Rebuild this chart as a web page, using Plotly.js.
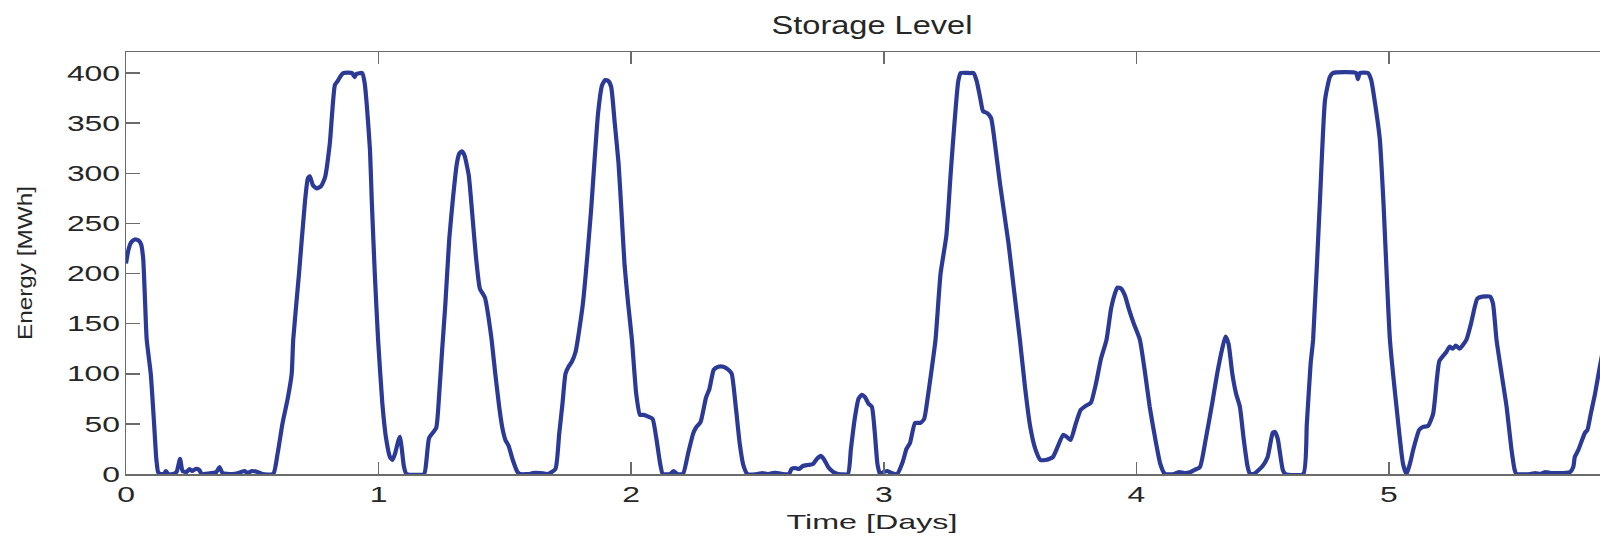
<!DOCTYPE html>
<html>
<head>
<meta charset="utf-8">
<script src="https://cdn.plot.ly/plotly-3.0.1.min.js"></script>
<style>
  html, body { margin: 0; padding: 0; background: #ffffff; overflow: hidden; }
  #chart { width: 1640px; height: 540px; }
</style>
</head>
<body>
<div id="chart"></div>
<script>
// Storage level over time (days) in MWh
const timeDays = [
  0.000, 0.010, 0.020, 0.035, 0.050, 0.060, 0.068, 0.075, 0.082, 0.098, 0.111, 0.120, 0.127, 0.135,
  0.150, 0.158, 0.166, 0.185, 0.200, 0.214, 0.224, 0.240, 0.252, 0.262, 0.275, 0.290, 0.300, 0.340,
  0.358, 0.370, 0.382, 0.420, 0.445, 0.470, 0.480, 0.500, 0.520, 0.540, 0.583, 0.600, 0.620, 0.640,
  0.656, 0.662, 0.685, 0.709, 0.720, 0.728, 0.740, 0.755, 0.772, 0.788, 0.807, 0.827, 0.838, 0.850,
  0.860, 0.895, 0.905, 0.912, 0.935, 0.945, 0.953, 0.966, 0.973, 0.985, 0.998, 1.015, 1.030, 1.045,
  1.055, 1.065, 1.078, 1.085, 1.092, 1.100, 1.110, 1.180, 1.190, 1.200, 1.228, 1.240, 1.252, 1.264,
  1.280, 1.296, 1.310, 1.320, 1.330, 1.340, 1.357, 1.370, 1.385, 1.401, 1.421, 1.446, 1.462, 1.478,
  1.490, 1.502, 1.515, 1.530, 1.550, 1.560, 1.600, 1.610, 1.640, 1.670, 1.700, 1.715, 1.728, 1.740,
  1.752, 1.765, 1.780, 1.808, 1.840, 1.869, 1.885, 1.897, 1.910, 1.921, 1.935, 1.950, 1.962, 1.974,
  1.988, 2.003, 2.020, 2.035, 2.050, 2.070, 2.085, 2.100, 2.115, 2.125, 2.155, 2.168, 2.182, 2.205,
  2.225, 2.245, 2.256, 2.275, 2.296, 2.310, 2.327, 2.345, 2.365, 2.385, 2.398, 2.415, 2.430, 2.445,
  2.460, 2.500, 2.520, 2.540, 2.560, 2.580, 2.600, 2.625, 2.635, 2.650, 2.665, 2.680, 2.700, 2.720,
  2.735, 2.751, 2.765, 2.780, 2.800, 2.820, 2.858, 2.870, 2.885, 2.900, 2.913, 2.925, 2.940, 2.953,
  2.965, 2.975, 2.985, 3.000, 3.015, 3.030, 3.053, 3.075, 3.090, 3.104, 3.124, 3.145, 3.160, 3.175,
  3.190, 3.205, 3.225, 3.248, 3.265, 3.280, 3.295, 3.305, 3.340, 3.355, 3.368, 3.382, 3.393, 3.410,
  3.425, 3.440, 3.460, 3.494, 3.515, 3.539, 3.560, 3.580, 3.600, 3.620, 3.640, 3.655, 3.670, 3.690,
  3.710, 3.725, 3.740, 3.760, 3.780, 3.800, 3.820, 3.840, 3.860, 3.882, 3.900, 3.915, 3.925, 3.940,
  3.955, 3.970, 3.990, 4.014, 4.035, 4.053, 4.075, 4.095, 4.113, 4.150, 4.170, 4.190, 4.215, 4.230,
  4.252, 4.275, 4.300, 4.320, 4.340, 4.353, 4.365, 4.380, 4.395, 4.410, 4.425, 4.440, 4.450, 4.465,
  4.480, 4.500, 4.520, 4.540, 4.549, 4.560, 4.567, 4.580, 4.590, 4.661, 4.675, 4.690, 4.700, 4.727,
  4.747, 4.766, 4.778, 4.870, 4.877, 4.885, 4.917, 4.930, 4.945, 4.964, 4.978, 5.004, 5.030, 5.056,
  5.070, 5.085, 5.096, 5.120, 5.135, 5.155, 5.175, 5.190, 5.200, 5.228, 5.240, 5.253, 5.265, 5.280,
  5.307, 5.325, 5.350, 5.370, 5.400, 5.412, 5.426, 5.446, 5.466, 5.485, 5.498, 5.505, 5.560, 5.580,
  5.600, 5.620, 5.640, 5.660, 5.690, 5.717, 5.730, 5.736, 5.750, 5.776, 5.786, 5.800, 5.816, 5.835,
  5.860, 5.880, 5.900
];

const energyMWh = [
  210, 224, 231, 234, 233, 229, 215, 175, 134, 100, 51, 15, 2, 0,
  0, 3, 0, 0, 2, 15, 3, 2, 5, 3, 5, 4, 0, 1,
  2, 7, 1, 0, 1, 3, 1, 3, 2, 0, 0, 20, 51, 75,
  100, 134, 200, 273, 295, 297, 288, 285, 287, 296, 330, 388, 392, 397,
  400, 400, 396, 399, 400, 390, 369, 323, 273, 200, 134, 70, 35, 17,
  14, 20, 33, 37, 25, 8, 0, 0, 15, 36, 46, 80, 125, 168,
  235, 279, 310, 320, 322, 318, 298, 262, 218, 185, 176, 137, 100, 66,
  46, 34, 28, 15, 2, 0, 0, 1, 1, 0, 5, 40, 70, 100,
  107, 112, 122, 168, 259, 360, 388, 393, 392, 386, 350, 310, 260, 208,
  170, 134, 80, 59, 59, 57, 55, 35, 10, 0, 0, 3, 0, 0,
  20, 40, 46, 52, 76, 85, 104, 107, 107, 104, 100, 65, 30, 8,
  0, 0, 1, 0, 1, 1, 0, 0, 5, 6, 5, 8, 9, 10,
  15, 18, 14, 7, 2, 0, 0, 25, 55, 75, 79, 77, 70, 67,
  40, 10, 0, 2, 3, 1, 0, 12, 25, 31, 51, 51, 55, 78,
  105, 134, 200, 238, 300, 350, 392, 400, 400, 400, 392, 375, 362, 360,
  355, 330, 290, 230, 185, 134, 85, 47, 25, 14, 14, 15, 17, 28,
  39, 37, 34, 50, 64, 68, 71, 90, 115, 134, 165, 180, 186, 185,
  178, 165, 150, 134, 100, 67, 35, 10, 0, 0, 2, 1, 2, 4,
  7, 35, 70, 100, 125, 137, 130, 100, 80, 67, 35, 8, 0, 0,
  3, 8, 17, 41, 42, 35, 24, 4, 0, 0, 50, 110, 134, 273,
  373, 396, 400, 400, 394, 400, 400, 393, 370, 334, 273, 134, 67, 10,
  0, 12, 24, 44, 47, 48, 60, 95, 113, 122, 127, 125, 128, 125,
  134, 150, 175, 177, 177, 170, 134, 100, 67, 25, 4, 0, 0, 1,
  0, 2, 1, 1, 1, 2, 7, 17, 24, 41, 44, 61, 80, 107,
  140, 165, 180
];

const yTickValues = [0, 50, 100, 150, 200, 250, 300, 350, 400];
const xTickValues = [0, 1, 2, 3, 4, 5];

const FONT = '"Liberation Sans", Arial, Helvetica, sans-serif';
const AXIS_GREY = '#6b6b6b';
const TEXT_DARK = '#262626';

const trace = {
  x: timeDays,
  y: energyMWh,
  type: 'scatter',
  mode: 'lines',
  line: { color: '#2b3a96', width: 4.2, shape: 'spline', smoothing: 0.5 },
  hoverinfo: 'x+y'
};

const layout = {
  width: 1640,
  height: 540,
  paper_bgcolor: '#ffffff',
  plot_bgcolor: '#ffffff',
  margin: { l: 126, r: 22, t: 52, b: 66, pad: 0 },
  showlegend: false,
  font: { family: FONT, color: TEXT_DARK },
  title: {
    text: 'Storage Level',
    font: { family: FONT, size: 26, color: TEXT_DARK },
    x: 0.5, xref: 'paper', xanchor: 'center',
    y: 1 - 25 / 540, yref: 'container', yanchor: 'middle'
  },
  xaxis: {
    range: [0, 5.907],
    tickvals: xTickValues,
    ticktext: xTickValues.map(String),
    ticks: 'inside',
    ticklen: 12,
    tickwidth: 1.5,
    tickcolor: AXIS_GREY,
    showline: true,
    linecolor: AXIS_GREY,
    linewidth: 1.5,
    mirror: 'ticks',
    showgrid: false,
    zeroline: false,
    tickfont: { family: FONT, size: 22, color: TEXT_DARK },
    ticklabelstandoff: 0,
    title: {
      text: 'Time [Days]',
      font: { family: FONT, size: 21, color: TEXT_DARK },
      standoff: 8
    }
  },
  yaxis: {
    range: [0, 421],
    tickvals: yTickValues,
    ticktext: yTickValues.map(String),
    ticks: 'inside',
    ticklen: 14,
    tickwidth: 1.5,
    tickcolor: AXIS_GREY,
    showline: true,
    linecolor: AXIS_GREY,
    linewidth: 1.5,
    mirror: 'ticks',
    showgrid: false,
    zeroline: false,
    tickfont: { family: FONT, size: 22, color: TEXT_DARK },
    ticklabelstandoff: 0,
    title: {
      text: 'Energy [MWh]',
      font: { family: FONT, size: 20.5, color: TEXT_DARK },
      standoff: 6
    }
  }
};

// The lettering is set wide; stretch each label along its own baseline,
// keeping its anchor point fixed.
function widen(el, k) {
  const bb = el.getBBox();
  if (!bb.width) return;
  const anchor = el.getAttribute('text-anchor') || 'start';
  const cx = anchor === 'end' ? bb.x + bb.width
           : anchor === 'middle' ? bb.x + bb.width / 2 : bb.x;
  const t = el.getAttribute('transform') || '';
  el.setAttribute('transform',
    t + ' translate(' + cx + ',0) scale(' + k + ',1) translate(' + (-cx) + ',0)');
}

function widenTo(selector, targetWidth) {
  document.querySelectorAll(selector).forEach(function (el) {
    const w = el.getBBox().width;
    if (w) widen(el, targetWidth / w);
  });
}

// Shift a text element so its on-screen horizontal centre sits at targetX.
function centreX(selector, targetX) {
  const svg = document.querySelector('#chart .main-svg');
  const origin = svg.getBoundingClientRect().left;
  document.querySelectorAll(selector).forEach(function (el) {
    const r = el.getBoundingClientRect();
    const dx = targetX - (r.left - origin + r.width / 2);
    const t = el.getAttribute('transform') || '';
    el.setAttribute('transform', 'translate(' + dx + ',0) ' + t);
  });
}

Plotly.newPlot('chart', [trace], layout, { staticPlot: true, displayModeBar: false })
  .then(function () {
    document.querySelectorAll('.xtick text, .ytick text').forEach(function (el) { widen(el, 1.45); });
    widenTo('.gtitle', 201);
    widenTo('.xtitle', 171);
    widenTo('.ytitle', 154);
    centreX('.ytitle', 25);
  });
</script>
</body>
</html>
